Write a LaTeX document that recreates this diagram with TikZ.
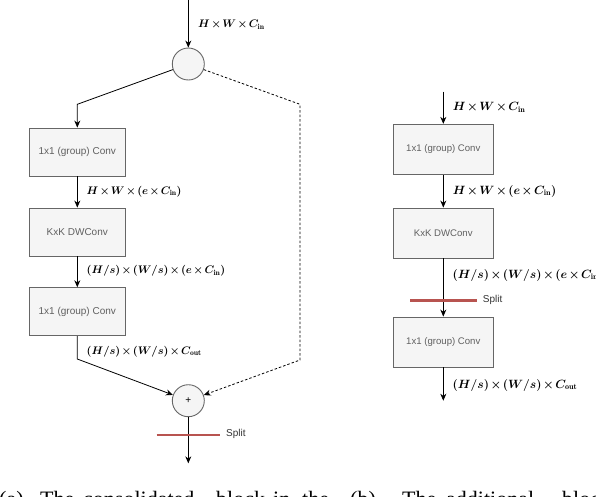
\documentclass[tikz,border=0pt]{standalone}
\usepackage{fontspec}
\newfontfamily\capfont{Liberation Serif}
\newfontfamily\boxfont{Liberation Sans}
\usepackage{amsmath}
\usetikzlibrary{arrows.meta}
\newcommand\labtight{\boldmath\medmuskip=2mu\relax}
\definecolor{boxfill}{HTML}{F5F5F5}
\definecolor{boxline}{HTML}{666666}
\definecolor{boxtext}{HTML}{606060}
\definecolor{splitred}{HTML}{B85450}
\tikzset{
  opbox/.style={draw=boxline, fill=boxfill, line width=0.9pt, minimum width=96pt, minimum height=48pt, inner sep=0pt,
    font=\boxfont\fontsize{10}{12}\selectfont, text=boxtext},
  opboxr/.style={opbox, minimum width=100.6pt, minimum height=50pt, font=\boxfont\fontsize{9.6}{12}\selectfont},
  opcirc/.style={draw=boxline, fill=boxfill, line width=0.9pt, circle, minimum size=32pt, inner sep=0pt},
  arr/.style={draw=black, line width=0.8pt, -{Stealth[length=7pt,width=6pt]}},
  dasharr/.style={arr, dash pattern=on 2.5pt off 2pt},
  splitline/.style={draw=splitred, line width=2.6pt},
  dimlbl/.style={anchor=west, inner sep=0pt, font=\fontsize{11}{13}\selectfont\labtight},
  dimlblr/.style={dimlbl, font=\fontsize{11.6}{14}\selectfont\labtight},
  splitlbl/.style={anchor=west, inner sep=0pt, font=\boxfont\fontsize{10}{12}\selectfont, text=black!80},
  capword/.style={anchor=base west, inner sep=0pt, font=\capfont\fontsize{22}{26}\selectfont}
}
\begin{document}
\begin{tikzpicture}[x=1pt,y=-1pt]
\useasboundingbox (0,0) rectangle (596,496);
% ---------- left diagram ----------
\node[opcirc] (sp) at (188.3,64) {};
\node[opcirc] (add) at (188.3,400.7) {\boxfont\fontsize{10}{12}\selectfont +};
\node[opbox] (b1) at (77.3,152) {1x1 (group) Conv};
\node[opbox] (b2) at (77.3,232) {KxK DWConv};
\node[opbox] (b3) at (77.3,311.7) {1x1 (group) Conv};
\coordinate (tin) at (188.3,0);
\coordinate (bendL) at (77.3,104.3);
\coordinate (bendR) at (300,104.3);
\coordinate (bendR2) at (300,360);
\coordinate (bendL2) at (77.3,359);
\coordinate (lout) at (188.3,463.3);
\coordinate (ls1) at (156.7,435);
\coordinate (ls2) at (220,435);
\draw[arr] (tin) -- (sp);
\draw[arr] (sp) -- (bendL) -- (b1.north);
\draw[arr] (b1) -- (b2);
\draw[arr] (b2) -- (b3);
\draw[arr] (b3.south) -- (bendL2) -- (add);
\draw[dasharr] (sp) -- (bendR) -- (bendR2) -- (add);
\draw[arr] (add) -- (lout);
\draw[splitline] (ls1) -- (ls2);
\node[splitlbl] (lsplit) at (226,434) {Split};
\node[dimlbl] (l0) at (198,24.5) {$H \times W \times C_{\mathrm{in}}$};
\node[dimlbl] (l1) at (86.5,191.5) {$H \times W \times (e \times C_{\mathrm{in}})$};
\node[dimlbl] (l2) at (86.5,271) {$(H/s) \times (W/s) \times (e \times C_{\mathrm{in}})$};
\node[dimlbl] (l3) at (86.5,351.5) {$(H/s) \times (W/s) \times C_{\mathrm{out}}$};
% ---------- right diagram ----------
\node[opboxr] (r1) at (443.3,149.3) {1x1 (group) Conv};
\node[opboxr] (r2) at (443.3,233) {KxK DWConv};
\node[opboxr] (r3) at (443.3,342) {1x1 (group) Conv};
\coordinate (rin) at (443.3,91.7);
\coordinate (rout) at (443.3,400.7);
\coordinate (rs1) at (410,300.3);
\coordinate (rs2) at (476.7,300.3);
\draw[arr] (rin) -- (r1);
\draw[arr] (r1) -- (r2);
\draw[arr] (r2) -- (r3);
\draw[arr] (r3) -- (rout);
\draw[splitline] (rs1) -- (rs2);
\node[splitlbl] (rsplit) at (482.7,299.5) {Split};
\node[dimlblr] (r0l) at (452.7,107.7) {$H \times W \times C_{\mathrm{in}}$};
\node[dimlblr] (r1l) at (452.7,191) {$H \times W \times (e \times C_{\mathrm{in}})$};
\node[dimlblr] (r2l) at (452.5,275) {$(H/s) \times (W/s) \times (e \times C_{\mathrm{in}})$};
\node[dimlblr] (r3l) at (452.5,385) {$(H/s) \times (W/s) \times C_{\mathrm{out}}$};
% ---------- captions (cut off at the bottom edge, as in the reference) ----------
\node[capword] (c1) at (-1,506) {(a)};
\node[capword] (c2) at (40,506) {The};
\node[capword] (c3) at (83,506) {consolidated};
\node[capword] (c4) at (216,506) {block};
\node[capword] (c5) at (273,506) {in};
\node[capword] (c6) at (302,506) {the};
\node[capword] (c7) at (350,506) {(b)};
\node[capword] (c8) at (402,506) {The};
\node[capword] (c9) at (446,506) {additional};
\node[capword] (c10) at (562,506) {block};
\end{tikzpicture}
\end{document}
